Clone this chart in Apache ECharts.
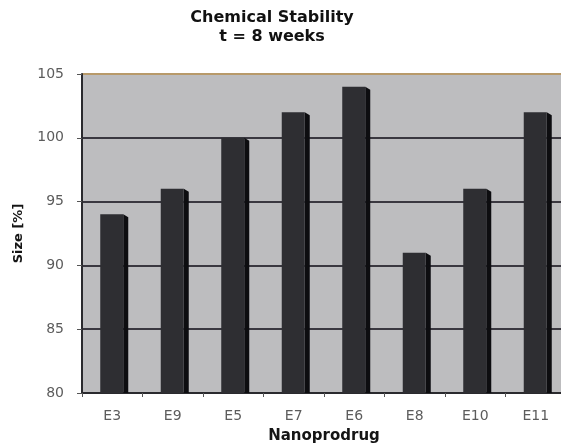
<!DOCTYPE html>
<html>
<head>
<meta charset="utf-8">
<script src="https://cdn.jsdelivr.net/npm/echarts@6/dist/echarts.min.js"></script>
<style>
  html, body { margin: 0; padding: 0; background: #fff; }
  #chart { width: 561px; height: 446px; }
</style>
</head>
<body>
<div id="chart"></div>
<script>
// Nanoprodrug formulations, in the order shown along the x axis
const categories = ['E3', 'E9', 'E5', 'E7', 'E6', 'E8', 'E10', 'E11'];
// Particle size after 8 weeks, relative to the initial size (%)
const sizePercent = [94, 96, 100, 102, 104, 91, 96, 102];
// Value axis range and step
const yMin = 80;
const yMax = 105;
const yStep = 5;

const chart = echarts.init(document.getElementById('chart'), null, { renderer: 'canvas' });

const labelFont = { fontFamily: 'DejaVu Sans', fontSize: 14, color: '#5c5c5c' };

// Column with a narrow dark side face, giving a shallow 3D look
function renderColumn(params, api) {
  const idx = api.value(0);
  const top = api.coord([idx, api.value(1)]);
  const base = api.coord([idx, yMin]);
  const cx = top[0];
  const frontLeft = cx - 12;
  const frontRight = cx + 11;
  const sideRight = cx + 16;
  return {
    type: 'group',
    children: [
      {
        type: 'polygon',
        shape: {
          points: [
            [frontRight, top[1]],
            [sideRight, top[1] + 3],
            [sideRight, base[1]],
            [frontRight, base[1]]
          ]
        },
        style: { fill: '#0d0d10', stroke: null, lineWidth: 0 }
      },
      {
        type: 'rect',
        shape: { x: frontLeft, y: top[1], width: frontRight - frontLeft, height: base[1] - top[1] },
        style: { fill: '#2e2e32', stroke: null, lineWidth: 0 }
      }
    ]
  };
}

chart.setOption({
  animation: false,
  backgroundColor: '#ffffff',
  title: {
    text: 'Chemical Stability\nt = 8 weeks',
    left: 267,
    top: 3,
    textAlign: 'center',
    textStyle: {
      fontFamily: 'DejaVu Sans',
      fontWeight: 'bold',
      fontSize: 16,
      lineHeight: 19,
      color: '#111'
    }
  },
  grid: {
    left: 82,
    top: 74,
    width: 484,
    height: 319,
    outerBoundsMode: 'none',
    containLabel: false,
    show: true,
    backgroundColor: '#bdbdbf',
    borderWidth: 0
  },
  xAxis: {
    type: 'category',
    data: categories,
    name: 'Nanoprodrug',
    nameLocation: 'middle',
    nameGap: 36,
    nameTextStyle: { fontFamily: 'DejaVu Sans', fontWeight: 'bold', fontSize: 15, color: '#151515' },
    axisLine: { lineStyle: { color: '#2a2a2e', width: 2 } },
    axisTick: { show: true, alignWithLabel: false, length: 4, lineStyle: { color: '#555' } },
    axisLabel: Object.assign({ margin: 16 }, labelFont)
  },
  yAxis: {
    type: 'value',
    min: yMin,
    max: yMax,
    interval: yStep,
    name: 'Size [%]',
    nameLocation: 'middle',
    nameRotate: 90,
    nameGap: 57,
    nameTextStyle: { fontFamily: 'DejaVu Sans', fontWeight: 'bold', fontSize: 13, color: '#151515' },
    axisLine: { show: true, lineStyle: { color: '#2a2a2e', width: 2 } },
    axisTick: { show: true, length: 5, lineStyle: { color: '#555' } },
    axisLabel: Object.assign({ margin: 18 }, labelFont),
    splitLine: {
      show: true,
      lineStyle: {
        color: ['#2a2a2e', '#3a3840', '#3a3840', '#3a3840', '#3a3840', '#b89a6a'],
        width: 2
      }
    }
  },
  series: [{
    type: 'custom',
    renderItem: renderColumn,
    encode: { x: 0, y: 1 },
    data: sizePercent.map((v, i) => [i, v]),
    z: 3
  }]
});
</script>
</body>
</html>
